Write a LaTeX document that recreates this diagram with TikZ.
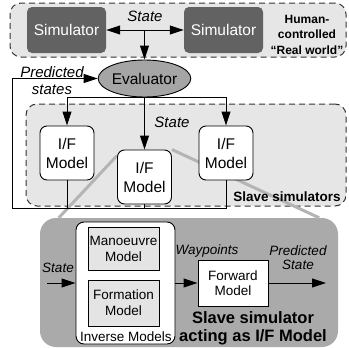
\documentclass[tikz,border=0pt]{standalone}
\usepackage{fontspec}
\setmainfont{Liberation Sans}
\usetikzlibrary{arrows.meta,shapes.geometric,calc}
\definecolor{regfill}{RGB}{230,230,230}
\definecolor{simfill}{RGB}{98,98,98}
\definecolor{evalfill}{RGB}{165,165,165}
\definecolor{bigfill}{RGB}{170,170,170}
\definecolor{zoomline}{RGB}{180,180,180}
\definecolor{subfill}{RGB}{228,228,228}
\pgfdeclarelayer{bglayer}
\pgfdeclarelayer{zoomlayer}
\pgfsetlayers{bglayer,zoomlayer,main}
\begin{document}
\begin{tikzpicture}[x=1pt,y=-1pt,
  >={Triangle[length=14pt,width=9pt]},
  region/.style={draw=black!80, line width=1pt, dash pattern=on 6pt off 4pt, fill=regfill, rounded corners=11pt, inner sep=0pt},
  simbox/.style={fill=simfill, rounded corners=5pt, minimum width=79pt, minimum height=46pt, text=white, font=\fontsize{15.5}{18}\selectfont, inner sep=0pt},
  ifbox/.style={draw, line width=0.9pt, fill=white, rounded corners=7pt, minimum width=54pt, minimum height=54pt, align=center, font=\fontsize{15.5}{19}\selectfont, inner sep=0pt},
  lbl/.style={font=\fontsize{15}{17}\selectfont\itshape, inner sep=0pt, align=center},
  slbl/.style={font=\fontsize{13.5}{14}\selectfont\itshape, inner sep=0pt, align=center},
  subbox/.style={draw, line width=0.9pt, fill=subfill, minimum width=71pt, align=center, font=\fontsize{13.5}{16}\selectfont, inner sep=0pt},
  conn/.style={line width=1pt},
  zl/.style={draw=zoomline, line width=3pt}
]
\useasboundingbox (0,0) rectangle (349,348);

% regions and the big slave-simulator box (background layer)
\begin{pgfonlayer}{bglayer}
\node[region, minimum width=336pt, minimum height=54pt] (top) at (178,30) {};
\node[region, minimum width=320pt, minimum height=102pt] (slave) at (186,155) {};
\node[fill=bigfill, rounded corners=16pt, minimum width=298pt, minimum height=129pt, inner sep=0pt] (big) at (189,282.5) {};
\end{pgfonlayer}

% I/F models
\node[ifbox] (ifl) at (67,153) {I/F\\Model};
\node[ifbox] (ifm) at (144.5,177) {I/F\\Model};
\node[ifbox] (ifr) at (226,153) {I/F\\Model};

% zoom lines from the middle model to the big box
\begin{pgfonlayer}{zoomlayer}
\draw[zl] ($(ifm.north west)+(0,6)$) -- ($(big.north west)+(19,0)$);
\draw[zl] (ifm.north east) -- ($(big.north east)+(-19,0)$);
\end{pgfonlayer}

% top part
\node[simbox] (sim1) at (66.5,30) {Simulator};
\node[simbox] (sim2) at (223.5,30) {Simulator};
\node[lbl] (stl) at (145,16) {State};
\node[font=\fontsize{12}{15.5}\selectfont\bfseries, align=center, inner sep=0pt] (hum) at (307,34.5) {Human-\\controlled\\“Real world”};
\node[ellipse, draw, line width=0.9pt, fill=evalfill, minimum width=83pt, minimum height=37pt, inner sep=0pt, font=\fontsize{15.5}{18}\selectfont] (eval) at (144.5,78.5) {Evaluator};
\coordinate (jt) at (144.5,30);
\draw[conn,<->] (sim1) -- (sim2);
\draw[conn,->] (jt) -- (eval.north);

\node[lbl] (pst) at (52,80.5) {Predicted\\states};
\node[lbl] (st2) at (172,122) {State};
\node[font=\fontsize{13.5}{15}\selectfont\bfseries, inner sep=0pt] (sls) at (287,197) {Slave simulators};

% evaluator to models
\draw[conn,->] (eval.south) -- (ifm.north);
\draw[conn,->] (eval.south) -| (ifl.north);
\draw[conn,->] (eval.south) -| (ifr.north);

% feedback
\coordinate (fbc) at (12,208);
\draw[conn,->] (ifr.south) |- (fbc) |- (eval.west);
\draw[conn] (ifl.south) -- (ifl.south |- fbc);
\draw[conn] (ifm.south) -- (ifm.south |- fbc);

% bottom detail
\node[draw, line width=0.9pt, fill=white, rounded corners=8pt, minimum width=99pt, minimum height=122pt, inner sep=0pt] (inv) at (125.5,283) {};
\node[subbox, minimum height=43pt] (man) at (123.5,248.5) {Manoeuvre\\Model};
\node[subbox, minimum height=46pt] (form) at (123.5,303) {Formation\\Model};
\node[font=\fontsize{13.5}{16}\selectfont, inner sep=0pt] (invl) at (126,336.5) {Inverse Models};
\node[draw, line width=0.9pt, fill=white, minimum width=70pt, minimum height=46pt, align=center, font=\fontsize{13.5}{15}\selectfont, inner sep=0pt] (fwd) at (233,283) {Forward\\Model};
\coordinate (sin) at (47,283);
\coordinate (pout) at (326,283);
\draw[conn,->] (sin) -- (inv.west);
\draw[conn,->] (inv.east) -- (fwd.west);
\draw[conn,->] (fwd.east) -- (pout);
\node[slbl] (sst) at (58,268) {State};
\node[slbl] (wp) at (207,251) {Waypoints};
\node[slbl] (pst2) at (298,258) {Predicted\\State};
\node[font=\fontsize{16.5}{18.5}\selectfont\bfseries, align=center, inner sep=0pt] (ssa) at (253,328.5) {Slave simulator\\acting as I/F Model};
\end{tikzpicture}
\end{document}
